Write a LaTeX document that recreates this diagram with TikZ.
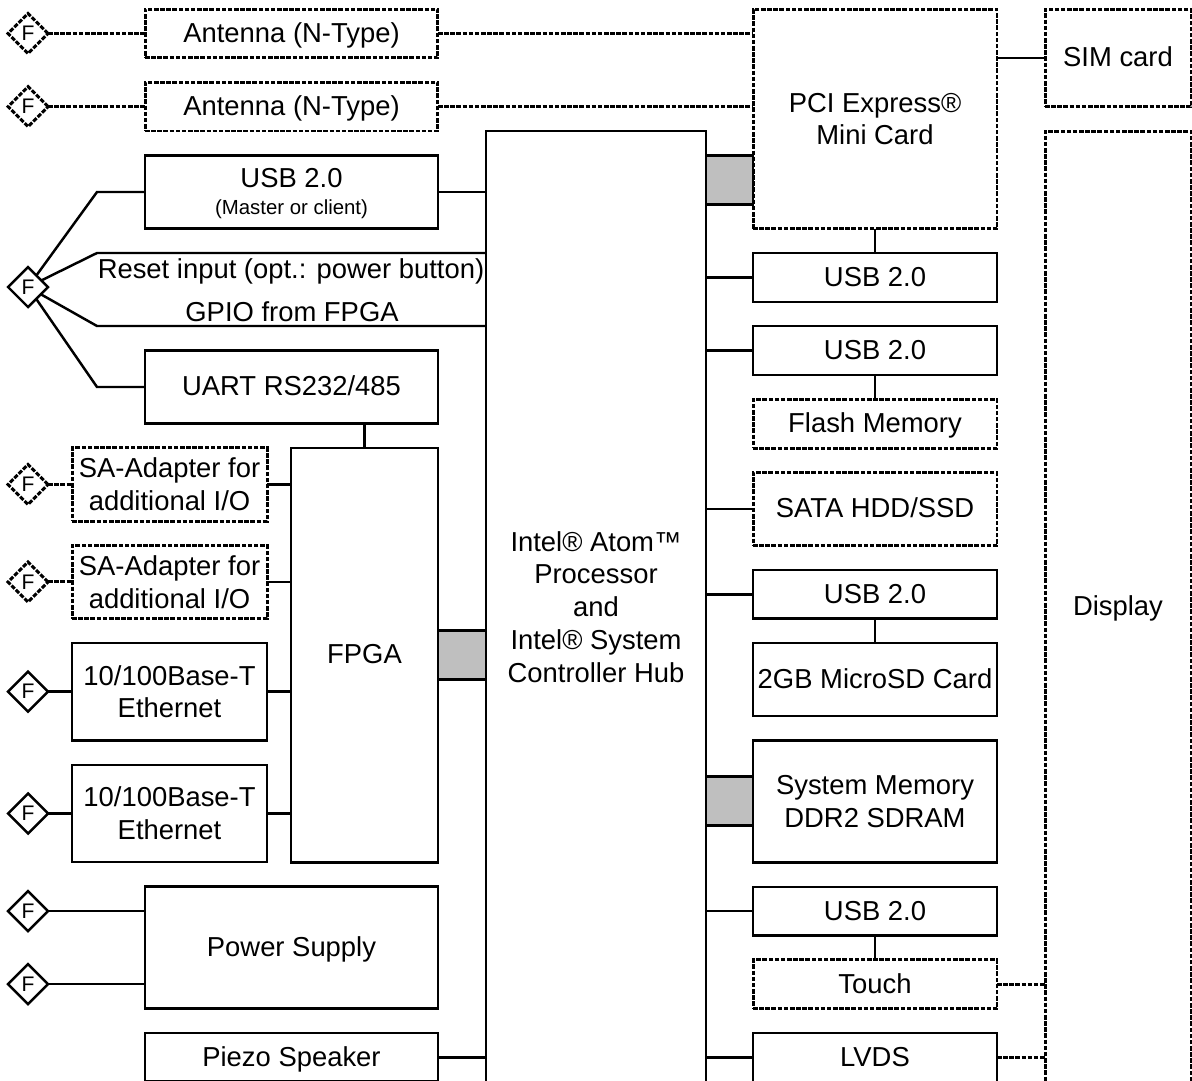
\documentclass[tikz,border=0pt]{standalone}
\usepackage{fontspec}
\setmainfont{Liberation Sans}
\usetikzlibrary{shapes.geometric, positioning}

\begin{document}
\begin{tikzpicture}[
        x=0.02cm, y=-0.02cm,
        node distance=0.4876cm,
        lbl/.style={font=\fontsize{15.6}{18.7}\selectfont, align=center, inner sep=0pt, outer sep=0pt},
        one/.style={text height=10pt, text depth=0pt},
        base/.style={lbl, draw, line width=1.4pt, minimum width=5.86cm, minimum height=0.975cm},
        dashbox/.style={base, line width=1.7pt, dash pattern=on 2.6pt off 0.9pt},
        sidebox/.style={minimum width=3.9cm, minimum height=1.463cm},
        rightbox/.style={minimum width=4.88cm},
        bus/.style={base, fill=black!25, minimum width=0.95cm},
        fcon/.style={draw, diamond, shape aspect=1, line width=1.4pt, inner sep=0pt, outer sep=0pt,
            minimum width=0.8cm, minimum height=0.8cm, font=\fontsize{12}{14}\selectfont},
        fdash/.style={fcon, line width=1.7pt, dash pattern=on 2.6pt off 0.9pt},
        link/.style={line width=1.4pt},
        dashlink/.style={line width=1.7pt, dash pattern=on 2.6pt off 0.9pt}
    ]
        \clip (0,0) rectangle (1192,1080);

        % Processor
        \node[base, minimum width=4.4cm, minimum height=19.04cm] (cpu) at (596,607) {Intel® Atom™ \\ Processor \\ and \\ Intel® System \\ Controller Hub};

        % Left column
        \node[dashbox, one] (ant1) at (291.5,33.5) {Antenna (N-Type)};
        \node[dashbox, one, below=of ant1] (ant2) {Antenna (N-Type)};
        \node[base, below=of ant2, minimum height=1.463cm, text height=26pt, text depth=0pt] (usbl) {USB 2.0 \\[-3.4pt] {\fontsize{11.6}{13}\selectfont (Master or client)}};
        \node[base, one, below=2.438cm of usbl, minimum height=1.463cm] (uart) {UART RS232/485};
        \node[base, one, below left=0.4876cm and 0cm of uart.south east, minimum width=2.94cm, minimum height=8.29cm] (fpga) {FPGA};
        \node[dashbox, sidebox, below left=0cm and 0.48cm of fpga.north west] (sa1) {SA-Adapter for \\ additional I/O};
        \node[dashbox, sidebox, below=of sa1] (sa2) {SA-Adapter for \\ additional I/O};
        \node[base, sidebox, minimum height=1.95cm, below=of sa2] (eth1) {10/100Base-T \\ Ethernet};
        \node[base, sidebox, minimum height=1.95cm, below=of eth1] (eth2) {10/100Base-T \\ Ethernet};
        \node[base, one, below left=0.4876cm and 0cm of fpga.south east, minimum height=2.438cm] (power) {Power Supply};
        \node[base, one, below=of power] (piezo) {Piezo Speaker};

        \node[lbl, one] (reset) at (291,269.5) {Reset input (opt.: power button)};
        \node[lbl, one] (gpio) at (292,313) {GPIO from FPGA};

        % Connectors on the left
        \node[fdash, left=1.94cm of ant1] (f1) {F};
        \node[fdash, left=1.94cm of ant2] (f2) {F};
        \node[fcon] (f3) at (28,287) {F};
        \node[fdash, left=0.48cm of sa1] (f4) {F};
        \node[fdash, left=0.48cm of sa2] (f5) {F};
        \node[fcon, left=0.48cm of eth1] (f6) {F};
        \node[fcon, left=0.48cm of eth2] (f7) {F};
        \node[fcon] (f8) at (28,911) {F};
        \node[fcon] (f9) at (28,984) {F};

        % Right column
        \node[dashbox, rightbox, minimum height=4.39cm] (pci) at (875,119) {PCI Express® \\ Mini Card};
        \node[base, one, rightbox, below=of pci] (usb1) {USB 2.0};
        \node[base, one, rightbox, below=of usb1] (usb2) {USB 2.0};
        \node[dashbox, one, rightbox, below=of usb2] (flash) {Flash Memory};
        \node[dashbox, one, rightbox, minimum height=1.463cm, below=of flash] (sata) {SATA HDD/SSD};
        \node[base, one, rightbox, below=of sata] (usb3) {USB 2.0};
        \node[base, one, rightbox, minimum height=1.463cm, below=of usb3] (sd) {2GB MicroSD Card};
        \node[base, rightbox, minimum height=2.438cm, below=of sd] (mem) {System Memory \\ DDR2 SDRAM};
        \node[base, one, rightbox, below=of mem] (usb4) {USB 2.0};
        \node[dashbox, one, rightbox, below=of usb4] (touch) {Touch};
        \node[base, one, rightbox, below=of touch] (lvds) {LVDS};

        \node[dashbox, one, minimum width=2.92cm, minimum height=1.95cm] (sim) at (1118,58) {SIM card};
        \node[dashbox, one, minimum width=2.92cm, minimum height=19.04cm] (display) at (1118,607) {Display};

        % Wide buses
        \node[bus] (bus1) at (729.5,180) {};
        \node[bus] (bus2) at (462,655) {};
        \node[bus] (bus3) at (729.5,801) {};

        % Bends of the lines
        \coordinate (kusb) at (97,192);
        \coordinate (kreset) at (97,253);
        \coordinate (kgpio) at (97,326);
        \coordinate (kuart) at (97,387);

        % Lines
        \draw[dashlink] (f1) -- (ant1);
        \draw[dashlink] (f2) -- (ant2);
        \draw[dashlink] (f4) -- (sa1);
        \draw[dashlink] (f5) -- (sa2);
        \draw[dashlink] (ant1) -- (ant1 -| pci.west);
        \draw[dashlink] (ant2) -- (ant2 -| pci.west);
        \draw[dashlink] (touch) -- (touch -| display.west);
        \draw[dashlink] (lvds) -- (lvds -| display.west);

        \draw[link] (f3) -- (kusb) -- (usbl);
        \draw[link] (f3) -- (kreset) -- (kreset -| cpu.west);
        \draw[link] (f3) -- (kgpio) -- (kgpio -| cpu.west);
        \draw[link] (f3) -- (kuart) -- (uart);
        \draw[link] (f6) -- (eth1);
        \draw[link] (f7) -- (eth2);
        \draw[link] (f8) -- (f8 -| power.west);
        \draw[link] (f9) -- (f9 -| power.west);
        \draw[link] (usbl) -- (usbl -| cpu.west);
        \draw[link] (fpga) -- (fpga |- uart.south);
        \draw[link] (sa1) -- (sa1 -| fpga.west);
        \draw[link] (sa2) -- (sa2 -| fpga.west);
        \draw[link] (eth1) -- (eth1 -| fpga.west);
        \draw[link] (eth2) -- (eth2 -| fpga.west);
        \draw[link] (piezo) -- (piezo -| cpu.west);

        \draw[link] (usb1 -| cpu.east) -- (usb1);
        \draw[link] (usb2 -| cpu.east) -- (usb2);
        \draw[link] (sata -| cpu.east) -- (sata);
        \draw[link] (usb3 -| cpu.east) -- (usb3);
        \draw[link] (usb4 -| cpu.east) -- (usb4);
        \draw[link] (lvds -| cpu.east) -- (lvds);
        \draw[link] (pci) -- (usb1);
        \draw[link] (usb2) -- (flash);
        \draw[link] (usb3) -- (sd);
        \draw[link] (usb4) -- (touch);
        \draw[link] (pci.east |- sim) -- (sim);

    \end{tikzpicture}
\end{document}
